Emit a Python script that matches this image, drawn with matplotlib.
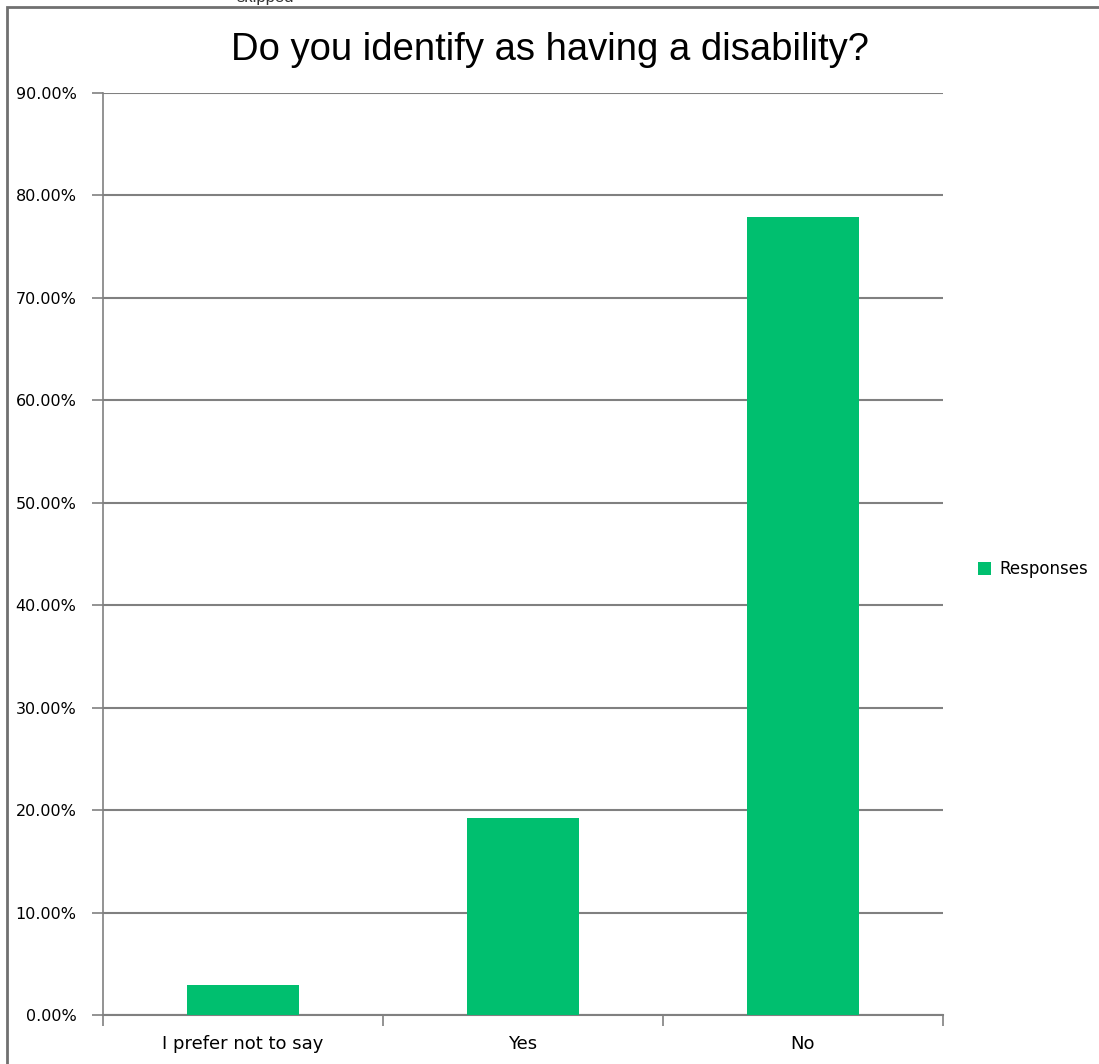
import matplotlib.pyplot as plt
from matplotlib.patches import Rectangle
from matplotlib.ticker import PercentFormatter

categories = ["I prefer not to say", "Yes", "No"]
responses = [2.9, 19.2, 77.9]
y_ticks = [0, 10, 20, 30, 40, 50, 60, 70, 80, 90]

fig = plt.figure(figsize=(10.99, 10.64), dpi=100)
ax = fig.add_axes([0.0937, 0.046, 0.7643, 0.8666])

# outer frame of the chart (cut off at right and bottom in the source)
fig.patches.append(Rectangle((7 / 1099, -0.05), 1.2, 1.05 - 7 / 1064,
                             transform=fig.transFigure, fill=False,
                             edgecolor="#707070", linewidth=2))
# clipped text above the frame
fig.text(0.215, 1.002, "skipped", fontsize=12, va="center", color="#333333",
         family="Liberation Sans")

x = range(len(categories))
ax.bar(x, responses, width=0.4, color="#00BF6F", label="Responses", zorder=3)

ax.set_xlim(-0.5, len(categories) - 0.5)
ax.set_ylim(0, 90)
ax.set_yticks(y_ticks)
ax.yaxis.set_major_formatter(PercentFormatter(decimals=2))
ax.set_xticks([i - 0.5 for i in range(len(categories) + 1)], minor=False)
ax.set_xticklabels([])
ax.set_xticks(list(x), minor=True)
ax.set_xticklabels(categories, minor=True, fontsize=13)
ax.tick_params(axis="x", which="minor", length=0, pad=14)
ax.tick_params(axis="x", which="major", length=8, width=1.2, color="#808080")
ax.tick_params(axis="y", length=8, width=1.2, color="#808080", labelsize=11.5, pad=11)

ax.grid(axis="y", color="#808080", linewidth=1.5, zorder=0)
for s in ["top", "right"]:
    ax.spines[s].set_visible(False)
ax.spines["left"].set_color("#808080")
ax.spines["bottom"].set_color("#808080")
ax.spines["left"].set_linewidth(1.2)
ax.spines["bottom"].set_linewidth(1.5)

fig.text(0.5, 0.953, "Do you identify as having a disability?", ha="center", va="center",
         fontsize=27.5, family="Liberation Sans")

fig.legend(loc="center left", bbox_to_anchor=(0.876, 0.465), frameon=False,
           handlelength=0.8, handleheight=0.8, handletextpad=0.5,
           prop={"size": 12})

fig.savefig("out.png", dpi=100)
